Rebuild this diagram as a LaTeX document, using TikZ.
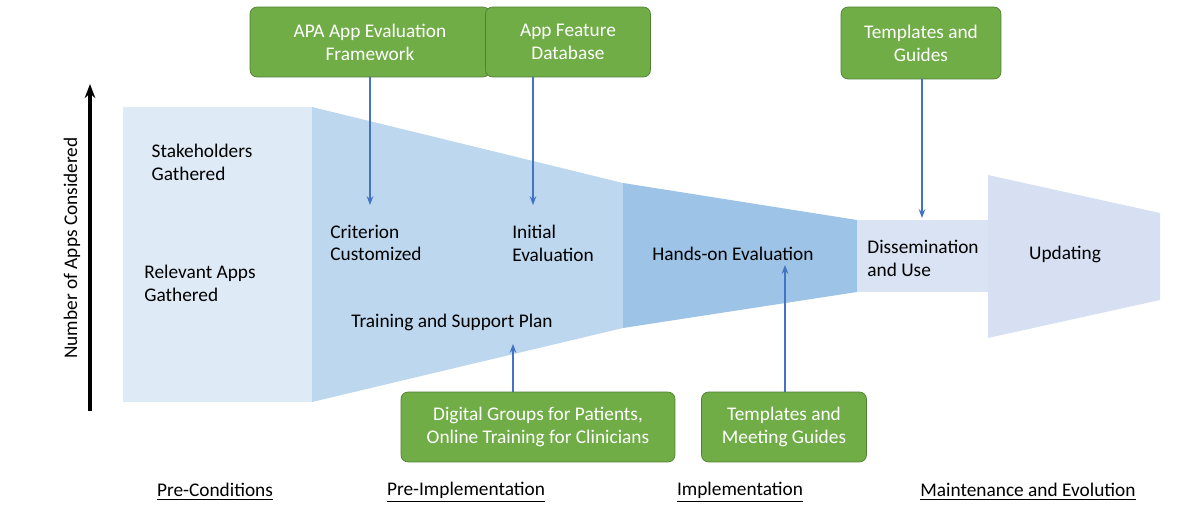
\documentclass[tikz,border=0pt]{standalone}
\usepackage{fontspec}
\setmainfont{Carlito}
\usetikzlibrary{arrows.meta}
\definecolor{stageA}{HTML}{DEEBF7}
\definecolor{stageB}{HTML}{BDD7EE}
\definecolor{stageC}{HTML}{9DC3E6}
\definecolor{stageD}{HTML}{DAE3F3}
\definecolor{stageE}{HTML}{D6E0F2}
\definecolor{boxgreen}{HTML}{70AD47}
\definecolor{boxedge}{HTML}{507E32}
\definecolor{linkblue}{HTML}{4472C4}
\begin{document}
\begin{tikzpicture}[x=0.02cm,y=-0.02cm,font=\fontsize{11}{13}\selectfont]
	\tikzstyle{tool}=[draw=boxedge,fill=boxgreen,rounded corners=4pt,text=white,align=center,inner sep=0pt]
	\tikzstyle{stage text}=[align=left,inner sep=0pt]
	\tikzstyle{link}=[linkblue,semithick,-{Stealth[length=5pt]}]
	\useasboundingbox (0,0) rectangle (1200,506);
	% stages
	\fill [stageA] (123,107) rectangle (312,402);
	\fill [stageB] (312,107) -- (623,183) -- (623,328) -- (312,402) -- cycle;
	\fill [stageC] (623,183) -- (857,220) -- (857,292) -- (623,328) -- cycle;
	\fill [stageD] (857,220) rectangle (988,292);
	\fill [stageE] (988,175) -- (1160,213) -- (1160,300) -- (988,338) -- cycle;
	% axis
	\coordinate (axisbot) at (90,411);
	\coordinate (axistop) at (90,84);
	\draw [black,line width=2pt,-{Stealth[length=8pt]}] (axisbot) -- (axistop);
	\node (axislabel) [rotate=90] at (72,248) {Number of Apps Considered};
	% steps
	\node (stake) [stage text] at (202,162) {Stakeholders\\ Gathered};
	\node (relevant) [stage text] at (200,283) {Relevant Apps\\Gathered};
	\node (criterion) [stage text] at (376,243) {Criterion\\Customized};
	\node (initial) [stage text] at (553,243) {Initial\\Evaluation};
	\node (training) at (452,322) {Training and Support Plan};
	\node (handson) at (733,254) {Hands-on Evaluation};
	\node (dissem) [stage text] at (923,258) {Dissemination\\and Use};
	\node (updating) at (1065,254) {Updating};
	% tools
	\node (apa) [tool,minimum width=4.8cm,minimum height=1.4cm] at (370,42) {APA App Evaluation\\Framework};
	\node (feature) [tool,minimum width=3.3cm,minimum height=1.4cm] at (568,42) {App Feature\\Database};
	\node (guides) [tool,minimum width=3.2cm,minimum height=1.44cm] at (921,43) {Templates and\\Guides};
	\node (groups) [tool,minimum width=5.48cm,minimum height=1.4cm] at (538,427) {Digital Groups for Patients,\\Online Training for Clinicians};
	\node (meeting) [tool,minimum width=3.3cm,minimum height=1.4cm] at (784,427) {Templates and\\Meeting Guides};
	\coordinate (toCrit) at (370,205);
	\coordinate (toInit) at (533,205);
	\coordinate (toDiss) at (922,218);
	\coordinate (toTrain) at (513,344);
	\coordinate (toHands) at (785,265);
	\draw [link] (apa.south) -- (toCrit);
	\draw [link] (feature.south -| toInit) -- (toInit);
	\draw [link] (guides.south -| toDiss) -- (toDiss);
	\draw [link] (groups.north -| toTrain) -- (toTrain);
	\draw [link] (meeting.north -| toHands) -- (toHands);
	% phases
	\node (pre) at (215,492) {\underline{Pre-Conditions}};
	\node (preimpl) at (466,492) {\underline{Pre-Implementation}};
	\node (impl) at (740,492) {\underline{Implementation}};
	\node (maint) at (1028,492) {\underline{Maintenance and Evolution}};
\end{tikzpicture}
\end{document}
